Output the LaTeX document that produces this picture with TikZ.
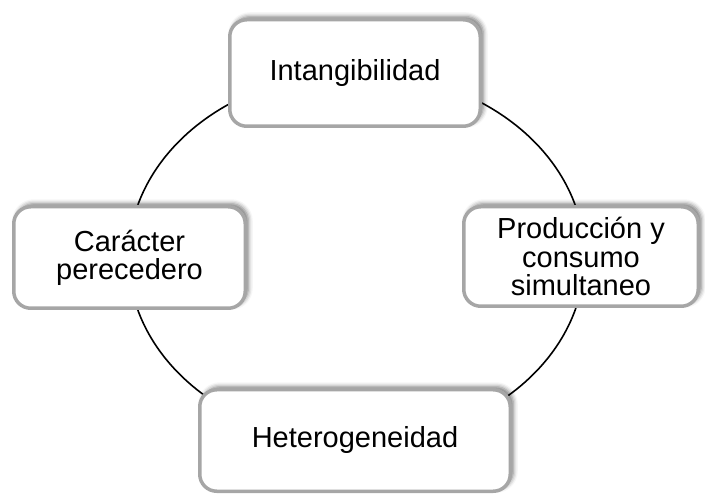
\documentclass[tikz,border=0pt]{standalone}
\usepackage{fontspec}
\setmainfont{Liberation Sans}
\usetikzlibrary{shadows.blur}
\definecolor{boxline}{HTML}{A6A6A6}
\tikzset{
  cyclebox/.style={
    draw=boxline, line width=3.5pt, fill=white,
    rounded corners=17pt, align=center, inner sep=0pt,
    font=\fontsize{29pt}{28.3pt}\selectfont,
    blur shadow={shadow xshift=3pt, shadow yshift=3pt,
                 shadow blur radius=4.5pt, shadow opacity=55}
  },
  ring/.style={draw=black, line width=1.6pt}
}
\begin{document}
\begin{tikzpicture}[x=1pt, y=-1pt]
  \useasboundingbox (0,0) rectangle (705,497);
  \coordinate (c) at (356.5,257.5);

  % the cycle ring behind the boxes
  \draw[ring] (c) ellipse [x radius=228pt, y radius=185pt];

  \node[cyclebox, minimum width=250.5pt, minimum height=106.5pt]
    (intang) at (355,73) {Intangibilidad};
  \node[cyclebox, minimum width=234.5pt, minimum height=99.5pt]
    (prod) at (581,256.5) {Producción y\\consumo\\simultaneo};
  \node[cyclebox, minimum width=310.5pt, minimum height=101.5pt]
    (hetero) at (355,440.5) {Heterogeneidad};
  \node[cyclebox, minimum width=231.5pt, minimum height=101.5pt]
    (perec) at (129.5,257.5) {Carácter\\perecedero};
\end{tikzpicture}
\end{document}
